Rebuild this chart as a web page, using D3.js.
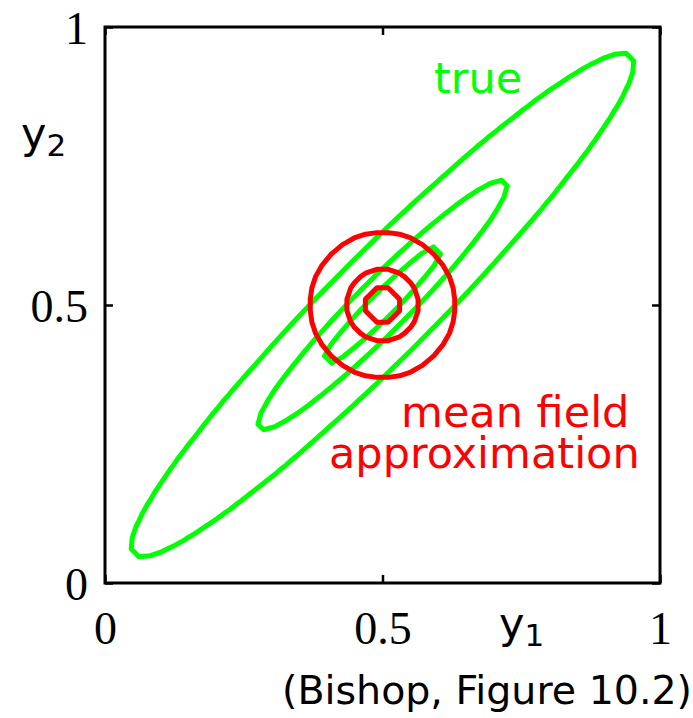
<!DOCTYPE html>
<html>
<head>
<meta charset="utf-8">
<script src="https://cdn.jsdelivr.net/npm/d3@7"></script>
<style>
  html, body { margin: 0; padding: 0; background: #fff; }
  svg { display: block; }
</style>
</head>
<body>
<svg id="chart" width="693" height="718"></svg>
<script>
// Correlated Gaussian p(y1, y2) and its factorised (mean-field) approximation q
const trueMean = [0.5, 0.5];
const trueSigma = [0.227, 0.227];
const trueRho = [0.958];
const approxMean = [0.5, 0.5];
const approxSigma = [0.065, 0.065];
// contour radii, in standard deviations
const contourRadii = [0.5, 1, 2];
// evaluation grid for the contour plot
const gridCount = [50];
const axisTicks = [0, 0.5, 1];
const axisTickLabels = ["0", "0.5", "1"];

const svg = d3.select("#chart");

const x = d3.scaleLinear().domain([0, 1]).range([105, 660]);
const y = d3.scaleLinear().domain([0, 1]).range([583, 27]);

// sample a Gaussian (unnormalised) on the grid
const n = gridCount[0];
const step = 1 / (n - 1);
function sampleGaussian(mu, sd, rho) {
  const vals = new Array(n * n);
  for (let j = 0; j < n; j++) {
    for (let i = 0; i < n; i++) {
      const dx = (i * step - mu[0]) / sd[0];
      const dy = (j * step - mu[1]) / sd[1];
      const q = (dx * dx - 2 * rho * dx * dy + dy * dy) / (1 - rho * rho);
      vals[j * n + i] = Math.exp(-0.5 * q);
    }
  }
  return vals;
}
const levels = contourRadii.map(c => Math.exp(-0.5 * c * c));

// contour coordinates -> data -> pixels
const toPixels = d3.geoTransform({
  point(px, py) {
    this.stream.point(x((px - 0.5) * step), y((py - 0.5) * step));
  }
});
const path = d3.geoPath(toPixels);
const contourGen = d3.contours().size([n, n]).thresholds(levels);

// keep only the main ring of each level (drops sub-cell specks at the thin tips)
function mainRing(c) {
  if (c.coordinates.length <= 1) return c;
  const best = d3.greatest(c.coordinates, p => Math.abs(d3.polygonArea(p[0])));
  return Object.assign({}, c, { coordinates: [best] });
}

const plot = svg.append("g");

const trueVals = sampleGaussian(trueMean, trueSigma, trueRho[0]);
plot.selectAll("path.true")
  .data(contourGen(trueVals).map(mainRing))
  .join("path")
  .attr("class", "true")
  .attr("d", path)
  .attr("fill", "none")
  .attr("stroke", "#00ff00")
  .attr("stroke-width", 5)
  .attr("stroke-linejoin", "round");

const approxVals = sampleGaussian(approxMean, approxSigma, 0);
plot.selectAll("path.approx")
  .data(contourGen(approxVals).map(mainRing))
  .join("path")
  .attr("class", "approx")
  .attr("d", path)
  .attr("fill", "none")
  .attr("stroke", "#ff0000")
  .attr("stroke-width", 5)
  .attr("stroke-linejoin", "round");

// frame
svg.append("rect")
  .attr("x", x(0)).attr("y", y(1))
  .attr("width", x(1) - x(0)).attr("height", y(0) - y(1))
  .attr("fill", "none").attr("stroke", "#000").attr("stroke-width", 3);

const serif = "'Liberation Serif', 'DejaVu Serif', serif";
const sans = "'DejaVu Sans', sans-serif";
const fmt = (d) => axisTickLabels[axisTicks.indexOf(d)];

function styleAxis(g) {
  g.select(".domain").remove();
  g.selectAll(".tick line").attr("stroke", "#000").attr("stroke-width", 2.5);
  g.selectAll(".tick text").attr("font-family", serif).attr("font-size", 46).attr("fill", "#000");
}

svg.append("g").attr("transform", `translate(0,${y(0)})`)
  .call(d3.axisBottom(x).tickValues(axisTicks).tickFormat(fmt).tickSize(-8).tickPadding(28))
  .call(styleAxis);
svg.append("g").attr("transform", `translate(0,${y(1)})`)
  .call(d3.axisTop(x).tickValues(axisTicks).tickFormat("").tickSize(-8))
  .call(styleAxis);
svg.append("g").attr("transform", `translate(${x(0)},0)`)
  .call(d3.axisLeft(y).tickValues(axisTicks).tickFormat(fmt).tickSize(-8).tickPadding(17))
  .call(styleAxis)
  .selectAll(".tick text").attr("dy", "0.36em");
svg.append("g").attr("transform", `translate(${x(1)},0)`)
  .call(d3.axisRight(y).tickValues(axisTicks).tickFormat("").tickSize(-8))
  .call(styleAxis);

// axis titles with subscripts
function subLabel(px, py, main, sub) {
  const t = svg.append("text").attr("x", px).attr("y", py)
    .attr("font-family", sans).attr("font-size", 43).attr("fill", "#000");
  t.append("tspan").text(main);
  t.append("tspan").attr("font-size", 31).attr("dy", 8).text(sub);
}
subLabel(21, 148, "y", "2");
subLabel(499, 638, "y", "1");

// curve labels
svg.append("text").attr("x", 434).attr("y", 93)
  .attr("font-family", sans).attr("font-size", 43).attr("fill", "#00ff00")
  .text("true");
svg.append("text").attr("x", 401).attr("y", 427)
  .attr("font-family", sans).attr("font-size", 43).attr("fill", "#ff0000")
  .text("mean field");
svg.append("text").attr("x", 329).attr("y", 468)
  .attr("font-family", sans).attr("font-size", 43).attr("fill", "#ff0000")
  .text("approximation");

svg.append("text").attr("x", 692).attr("y", 704)
  .attr("text-anchor", "end")
  .attr("font-family", sans).attr("font-size", 39.5).attr("fill", "#000")
  .text("(Bishop, Figure 10.2)");
</script>
</body>
</html>
